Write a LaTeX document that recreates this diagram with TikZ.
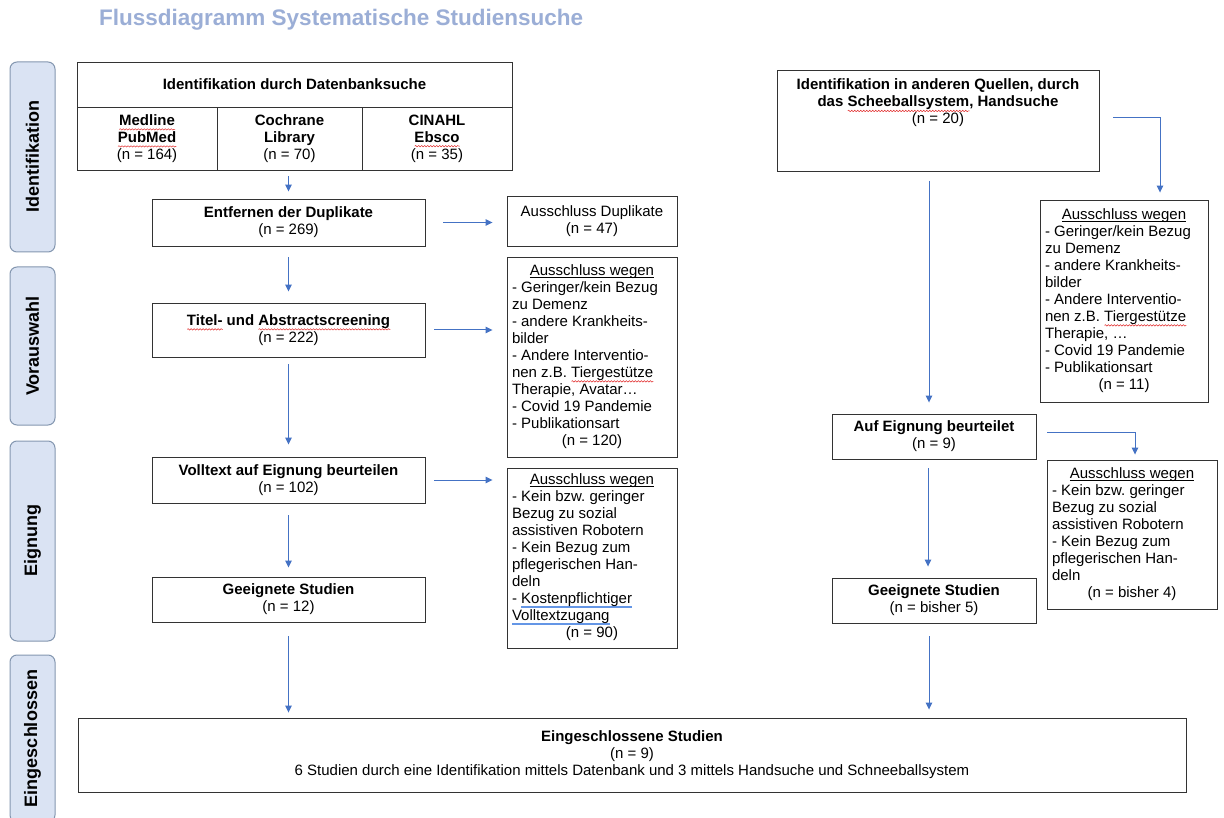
\documentclass[tikz,border=0pt]{standalone}
\usepackage{fontspec}
\setmainfont{Liberation Sans}
\usepackage{array}
\usetikzlibrary{arrows.meta,decorations.pathmorphing}
\frenchspacing
\definecolor{titlecol}{RGB}{155,174,214}
\definecolor{arrcol}{RGB}{68,114,196}
\definecolor{labfill}{RGB}{218,227,243}
\definecolor{labdraw}{RGB}{132,151,176}
\definecolor{spellred}{RGB}{225,40,40}
\definecolor{gramblue}{RGB}{100,150,230}
\newlength\swlen
\newcommand\spellwave[1]{\leavevmode\settowidth\swlen{#1}\rlap{\raisebox{-4pt}{\tikz[x=1pt,y=1pt,baseline=0pt]\draw[spellred,line width=0.5pt,decorate,decoration={snake,amplitude=0.7pt,segment length=3pt}] (0,0)--(\the\swlen,0);}}#1}
\newcommand\grammarline[1]{\leavevmode\settowidth\swlen{#1}\rlap{\textcolor{gramblue}{\rule[-4pt]{\swlen}{1.6pt}}}#1}
\newcommand\ulword[1]{\leavevmode\settowidth\swlen{#1}\rlap{\rule[-2.2pt]{\swlen}{0.7pt}}#1}
\newcommand\exlist[2]{\begin{tabular}{@{}p{#1}@{}}#2\end{tabular}}
\newcommand\ctr[1]{\multicolumn{1}{@{}c@{}}{#1}}
\begin{document}
\begin{tikzpicture}[x=1pt,y=-1pt,
  every node/.style={font=\fontsize{15}{17}\selectfont, inner sep=2pt},
  box/.style={draw=black!80, line width=0.9pt, align=center},
  plainbox/.style={draw=black!80, line width=0.9pt},
  arr/.style={draw=arrcol, line width=1pt, -{Triangle[length=7pt,width=6.5pt]}},
  lab/.style={draw=labdraw, fill=labfill, line width=1pt, rounded corners=7pt, rotate=90,
    minimum height=45pt, font=\fontsize{18}{21}\selectfont\bfseries}
]
\fill[white] (0,0) rectangle (1224,818);
\useasboundingbox (0,0) rectangle (1224,818);

% title
\node[anchor=base west, text=titlecol, font=\fontsize{22.5}{26}\selectfont\bfseries] (title) at (97,25.5) {Flussdiagramm Systematische Studiensuche};

% phase labels
\node[lab, minimum width=190pt] (l1) at (32.5,157) {Identifikation};
\node[lab, minimum width=158pt] (l2) at (32.5,346) {Vorauswahl};
\node[lab, minimum width=200pt] (l3) at (32.5,541) {Eignung};
\node[lab, minimum width=167pt] (l4) at (32.5,738.5) {Eingeschlossen};

% left column
\node[box, minimum width=435pt, minimum height=45pt] (dbhead) at (294.5,84.5) {\textbf{Identifikation durch Datenbanksuche}};
\node[box, minimum width=140pt, minimum height=63pt] (medline) at (147,138.5) {\textbf{\spellwave{Medline}}\\\textbf{\spellwave{PubMed}}\\(n = 164)};
\node[box, minimum width=145pt, minimum height=63pt] (cochrane) at (289.5,138.5) {\textbf{Cochrane}\\\textbf{Library}\\(n = 70)};
\node[box, minimum width=150pt, minimum height=63pt] (cinahl) at (437,138.5) {\textbf{CINAHL}\\\textbf{\spellwave{Ebsco}}\\(n = 35)};

\node[box, minimum width=273pt, minimum height=47pt] (entf) at (288.5,222.5) {\textbf{Entfernen der Duplikate}\\(n = 269)};
\node[box, minimum width=170pt, minimum height=50pt] (dup) at (592,221) {Ausschluss Duplikate\\(n = 47)};

\node[box, minimum width=273pt, minimum height=54pt] (titel) at (288.5,330) {\textbf{\spellwave{Titel-} und \spellwave{Abstractscreening}}\\(n = 222)};
\node[plainbox, minimum width=170pt, minimum height=200pt] (ex1) at (592,357) {\exlist{160pt}{%
\ctr{\ulword{Ausschluss wegen}}\\
- Geringer/kein Bezug\\
zu Demenz\\
- andere Krankheits-\\
bilder\\
- Andere Interventio-\\
nen z.B. \spellwave{Tiergestütze}\\
Therapie, Avatar…\\
- Covid 19 Pandemie\\
- Publikationsart\\
\ctr{(n = 120)}}};

\node[box, minimum width=273pt, minimum height=46pt] (volltext) at (288.5,480) {\textbf{Volltext auf Eignung beurteilen}\\(n = 102)};
\node[plainbox, minimum width=170pt, minimum height=180pt] (ex2) at (592,558) {\exlist{160pt}{%
\ctr{\ulword{Ausschluss wegen}}\\
- Kein bzw. geringer\\
Bezug zu sozial\\
assistiven Robotern\\
- Kein Bezug zum\\
pflegerischen Han-\\
deln\\
- \grammarline{Kostenpflichtiger}\\
\grammarline{Volltextzugang}\\
\ctr{(n = 90)}}};

\node[box, minimum width=273pt, minimum height=45pt] (geeig) at (288.5,599.5) {\textbf{Geeignete Studien}\\(n = 12)};

\node[box, minimum width=1108pt, minimum height=74pt] (eing) at (632,755) {\textbf{Eingeschlossene Studien}\\(n = 9)\\6 Studien durch eine Identifikation mittels Datenbank und 3 mittels Handsuche und Schneeballsystem};

% right column
\node[plainbox, anchor=north, minimum width=322pt, inner ysep=2.5pt, text height=17pt, text depth=79pt] (andere) at (938,70) {\begin{tabular}[t]{@{}c@{}}\textbf{Identifikation in anderen Quellen, durch}\\\textbf{das \spellwave{Scheeballsystem}, Handsuche}\\(n = 20)\end{tabular}};
\node[plainbox, minimum width=168pt, minimum height=202pt] (rex1) at (1124,301) {\exlist{158pt}{%
\ctr{\ulword{Ausschluss wegen}}\\
- Geringer/kein Bezug\\
zu Demenz\\
- andere Krankheits-\\
bilder\\
- Andere Interventio-\\
nen z.B. \spellwave{Tiergestütze}\\
Therapie, …\\
- Covid 19 Pandemie\\
- Publikationsart\\
\ctr{(n = 11)}}};
\node[box, minimum width=204pt, minimum height=45pt] (auf) at (934,436.5) {\textbf{Auf Eignung beurteilet}\\(n = 9)};
\node[plainbox, minimum width=170pt, minimum height=149pt] (rex2) at (1132,534.5) {\exlist{160pt}{%
\ctr{\ulword{Ausschluss wegen}}\\
- Kein bzw. geringer\\
Bezug zu sozial\\
assistiven Robotern\\
- Kein Bezug zum\\
pflegerischen Han-\\
deln\\
\ctr{(n = bisher 4)}}};
\node[box, minimum width=204pt, minimum height=45pt] (geeig2) at (934,600.5) {\textbf{Geeignete Studien}\\(n = bisher 5)};

% connectors left
\draw[arr, shorten <=6pt, shorten >=7pt] (entf.north |- cochrane.south) -- (entf.north);
\draw[arr, shorten <=18pt, shorten >=14pt] (entf.east) -- (entf.east -| dup.west);
\draw[arr, shorten <=11pt, shorten >=11pt] (entf.south) -- (titel.north);
\draw[arr, shorten <=9pt, shorten >=14pt] (titel.east) -- (titel.east -| ex1.west);
\draw[arr, shorten <=7pt, shorten >=12pt] (titel.south) -- (volltext.north);
\draw[arr, shorten <=9pt, shorten >=14pt] (volltext.east) -- (volltext.east -| ex2.west);
\draw[arr, shorten <=12pt, shorten >=9pt] (volltext.south) -- (geeig.north);
\draw[arr, shorten <=14pt, shorten >=5pt] (geeig.south) -- (geeig.south |- eing.north);

% connectors right
\draw[arr, shorten <=9pt, shorten >=11pt] ([xshift=-5pt]auf.north |- andere.south) -- ([xshift=-5pt]auf.north);
\draw[arr, shorten >=7pt] ([xshift=14pt,yshift=3.5pt]andere.east) -| ([xshift=36pt]rex1.north);
\draw[arr, shorten >=5pt] ([xshift=11pt,yshift=4.5pt]auf.east) -| ([xshift=3pt]rex2.north);
\draw[arr, shorten <=9pt, shorten >=11pt] ([xshift=-6pt]auf.south) -- ([xshift=-6pt]geeig2.north);
\draw[arr, shorten <=13pt, shorten >=8pt] ([xshift=-5pt]geeig2.south) -- ([xshift=-5pt]geeig2.south |- eing.north);
\end{tikzpicture}
\end{document}
